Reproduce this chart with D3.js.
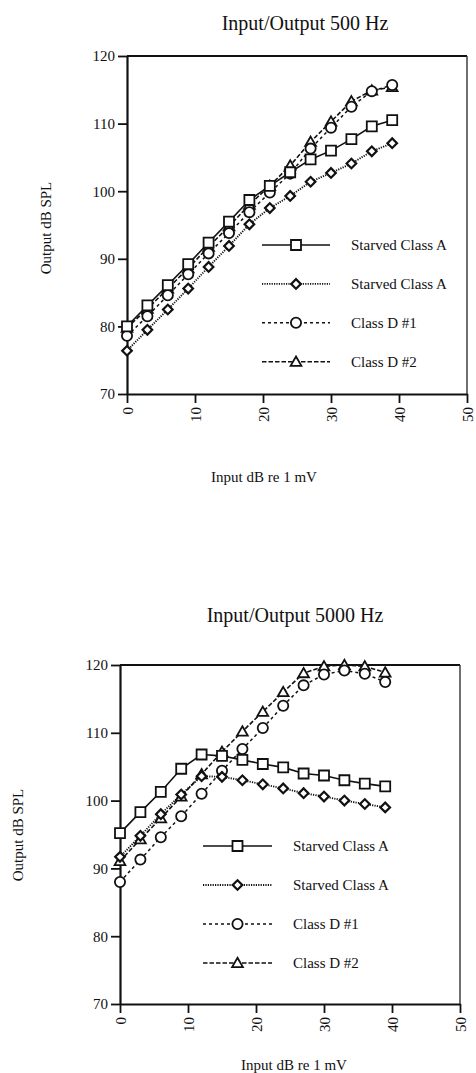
<!DOCTYPE html>
<html>
<head>
<meta charset="utf-8">
<script src="https://cdn.jsdelivr.net/npm/d3@7"></script>
<style>
  body { margin: 0; background: #fff; }
  text { font-family: "Liberation Serif", "Times New Roman", serif; fill: #111; }
</style>
</head>
<body>
<script>
// input levels (dB re 1 mV), same for every series
const inputLevels = [0, 3, 6, 9, 12, 15, 18, 21, 24, 27, 30, 33, 36, 39];

const seriesNames = ["Starved Class A", "Starved Class A", "Class D #1", "Class D #2"];

// 500 Hz
const sqA500  = [80.0, 83.1, 86.1, 89.2, 92.4, 95.5, 98.7, 100.8, 102.8, 104.7, 106.0, 107.7, 109.6, 110.5];
const dmA500  = [76.4, 79.5, 82.5, 85.6, 88.8, 91.9, 95.1, 97.5, 99.3, 101.4, 102.7, 104.1, 105.9, 107.1];
const clD1_500 = [78.6, 81.5, 84.6, 87.7, 90.8, 93.8, 96.9, 99.8, 102.6, 106.3, 109.4, 112.5, 114.8, 115.7];
const clD2_500 = [79.8, 82.6, 85.6, 88.6, 91.8, 94.8, 98.0, 100.8, 103.8, 107.3, 110.3, 113.3, 114.9, 115.4];

// 5000 Hz
const sqA5000  = [95.2, 98.3, 101.3, 104.7, 106.8, 106.6, 106.0, 105.4, 104.9, 104.0, 103.7, 103.0, 102.5, 102.1];
const dmA5000  = [91.7, 94.8, 98.0, 100.9, 103.6, 103.5, 103.0, 102.4, 101.8, 101.1, 100.6, 100.0, 99.5, 99.0];
const clD1_5000 = [88.0, 91.3, 94.6, 97.7, 101.0, 104.4, 107.6, 110.7, 114.0, 117.0, 118.6, 119.2, 118.7, 117.5];
const clD2_5000 = [91.1, 94.3, 97.4, 100.6, 103.9, 107.2, 110.2, 113.1, 116.0, 118.8, 119.8, 120.0, 119.8, 118.9];

const yTicks = [70, 80, 90, 100, 110, 120];
const xTicks = [0, 10, 20, 30, 40, 50];

const W = 476, H = 1073;
const svg = d3.select("body").append("svg")
  .attr("width", W).attr("height", H)
  .attr("viewBox", [0, 0, W, H]);

// marker / line styles per series (order: square, diamond, circle, triangle)
const styles = [
  { sym: d3.symbolSquare,   size: 100, rot: 0,  dy: 0, dash: null,      lw: 1.6, mw: 1.8 },
  { sym: d3.symbolSquare,   size: 46,  rot: 45, dy: 0, dash: "1.2,1.2", lw: 1.9, mw: 2.2 },
  { sym: d3.symbolCircle,   size: 82,  rot: 0,  dy: 0, dash: "3,3",     lw: 1.5, mw: 1.8 },
  { sym: d3.symbolTriangle, size: 50,  rot: 0,  dy: 1, dash: "4.5,2",   lw: 1.6, mw: 1.8 }
];
const drawOrder = [3, 2, 1, 0];

function markerTransform(st, px, py) {
  return `translate(${px},${py + st.dy}) rotate(${st.rot})`;
}

function drawChart(cfg) {
  const x = d3.scaleLinear().domain([0, 50]).range([cfg.left, cfg.right]);
  const y = d3.scaleLinear().domain([70, 120]).range([cfg.bottom, cfg.top]);
  const g = svg.append("g");

  // title
  g.append("text")
    .attr("x", cfg.titleX).attr("y", cfg.titleY)
    .attr("text-anchor", "middle")
    .style("font-size", "20px")
    .text(cfg.title);

  // frame top / right
  g.append("line")
    .attr("x1", cfg.left).attr("x2", cfg.right)
    .attr("y1", cfg.top).attr("y2", cfg.top)
    .attr("stroke", "#111").attr("stroke-width", 2);
  g.append("line")
    .attr("x1", cfg.right).attr("x2", cfg.right)
    .attr("y1", cfg.top).attr("y2", cfg.bottom)
    .attr("stroke", "#333").attr("stroke-width", 1.4);

  // y axis
  const yAx = g.append("g")
    .attr("transform", `translate(${cfg.left},0)`)
    .call(d3.axisLeft(y).tickValues(yTicks).tickSize(9).tickPadding(3).tickSizeOuter(0));
  yAx.select(".domain").attr("stroke", "#111").attr("stroke-width", 2.2);
  yAx.selectAll(".tick line").attr("stroke", "#111").attr("stroke-width", 1.8);
  yAx.selectAll("text")
    .style("font-size", "15px")
    .style("font-family", '"Liberation Serif", serif')
    .attr("fill", "#111");

  // x axis with rotated labels
  const xAx = g.append("g")
    .attr("transform", `translate(0,${cfg.bottom})`)
    .call(d3.axisBottom(x).tickValues(xTicks).tickSize(9).tickSizeOuter(0));
  xAx.select(".domain").attr("stroke", "#111").attr("stroke-width", 2.2);
  xAx.selectAll(".tick line").attr("stroke", "#111").attr("stroke-width", 1.8);
  xAx.selectAll("text")
    .attr("transform", "rotate(-90)")
    .attr("text-anchor", "end")
    .attr("x", -13).attr("y", 0).attr("dy", "0.35em")
    .style("font-size", "15px")
    .style("font-family", '"Liberation Serif", serif')
    .attr("fill", "#111");

  // axis labels
  g.append("text")
    .attr("transform", `translate(${cfg.yLabX},${cfg.yLabY}) rotate(-90)`)
    .attr("text-anchor", "middle").attr("dy", "0.35em")
    .style("font-size", "15px")
    .text("Output dB SPL");
  g.append("text")
    .attr("x", cfg.xLabX).attr("y", cfg.xLabY)
    .attr("text-anchor", "middle")
    .style("font-size", "15px")
    .text("Input dB re 1 mV");

  const line = d3.line().x((d, i) => x(inputLevels[i])).y(d => y(d));

  drawOrder.forEach(k => {
    const st = styles[k];
    const vals = cfg.series[k];
    g.append("path")
      .attr("d", line(vals))
      .attr("fill", "none")
      .attr("stroke", "#111")
      .attr("stroke-width", st.lw)
      .attr("stroke-dasharray", st.dash);
    g.selectAll(null)
      .data(vals)
      .join("path")
      .attr("transform", (d, i) => markerTransform(st, x(inputLevels[i]), y(d)))
      .attr("d", d3.symbol(st.sym, st.size))
      .attr("fill", "#fff")
      .attr("stroke", "#111")
      .attr("stroke-width", st.mw);
  });

  // legend
  const L = cfg.legend;
  seriesNames.forEach((name, k) => {
    const st = styles[k];
    const ry = L.y0 + k * L.dy;
    g.append("line")
      .attr("x1", L.x1).attr("x2", L.x2)
      .attr("y1", ry).attr("y2", ry)
      .attr("stroke", "#111")
      .attr("stroke-width", st.lw)
      .attr("stroke-dasharray", st.dash);
    g.append("path")
      .attr("transform", markerTransform(st, (L.x1 + L.x2) / 2, ry))
      .attr("d", d3.symbol(st.sym, st.size))
      .attr("fill", "#fff")
      .attr("stroke", "#111")
      .attr("stroke-width", st.mw);
    g.append("text")
      .attr("x", L.tx).attr("y", ry).attr("dy", "0.35em")
      .style("font-size", "15px")
      .text(name);
  });
}

drawChart({
  title: "Input/Output 500 Hz", titleX: 305, titleY: 30,
  left: 127, right: 467, top: 56, bottom: 394,
  yLabX: 46, yLabY: 228, xLabX: 264, xLabY: 482,
  series: [sqA500, dmA500, clD1_500, clD2_500],
  legend: { x1: 262, x2: 330, tx: 351, y0: 245, dy: 38.9 }
});

drawChart({
  title: "Input/Output 5000 Hz", titleX: 295, titleY: 622,
  left: 120, right: 460, top: 665, bottom: 1004,
  yLabX: 18, yLabY: 835, xLabX: 294, xLabY: 1070,
  series: [sqA5000, dmA5000, clD1_5000, clD2_5000],
  legend: { x1: 203, x2: 272, tx: 293, y0: 846, dy: 39 }
});
</script>
</body>
</html>
